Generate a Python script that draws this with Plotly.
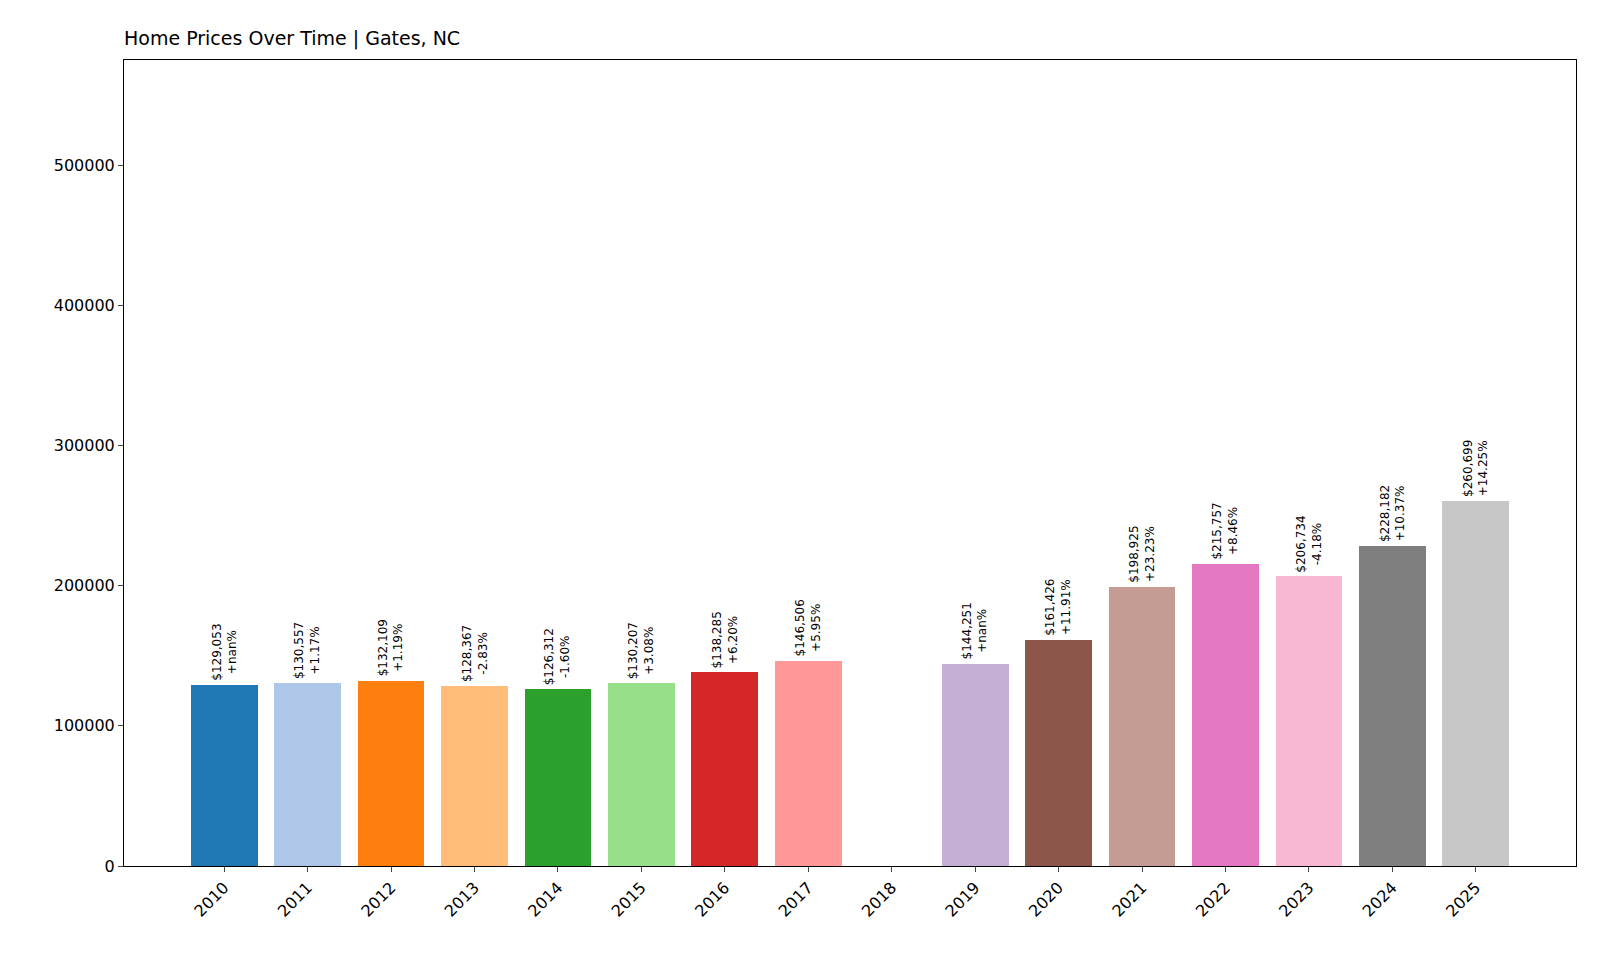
import plotly.graph_objects as go

years = list(range(2010, 2026))
prices = [129053, 130557, 132109, 128367, 126312, 130207, 138285, 146506, None,
          144251, 161426, 198925, 215757, 206734, 228182, 260699]
pct_labels = ["+nan%", "+1.17%", "+1.19%", "-2.83%", "-1.60%", "+3.08%", "+6.20%", "+5.95%", None,
              "+nan%", "+11.91%", "+23.23%", "+8.46%", "-4.18%", "+10.37%", "+14.25%"]
colors = ["#1f77b4", "#aec7e8", "#ff7f0e", "#ffbb78", "#2ca02c", "#98df8a", "#d62728", "#ff9896",
          "#9467bd", "#c5b0d5", "#8c564b", "#c49c94", "#e377c2", "#f7b6d2", "#7f7f7f", "#c7c7c7"]

fig = go.Figure()
fig.add_trace(go.Bar(x=years, y=[p if p is not None else 0 for p in prices], marker_color=colors,
                     marker_line_width=0, width=0.8, showlegend=False))

for y, p, pct in zip(years, prices, pct_labels):
    if p is not None:
        fig.add_annotation(x=y, y=p, text=f"${p:,}<br>{pct}", textangle=-90, showarrow=False,
                           yanchor="bottom", yshift=2, font=dict(size=12, color="#000", family="DejaVu Sans"))

fig.update_layout(
    width=1600, height=960, plot_bgcolor="white", paper_bgcolor="white",
    margin=dict(l=116, r=32, t=52, b=102),
    font=dict(family="DejaVu Sans", size=16, color="#000"),
    title=dict(text="Home Prices Over Time | Gates, NC", x=116/1600, xanchor="left",
               y=1-30/960, yanchor="middle", font=dict(size=19)),
    bargap=0,
)
fig.update_xaxes(range=[2008.8, 2026.2], tickmode="array", tickvals=years, ticktext=[str(y) for y in years],
                 tickangle=-45, showline=True, linecolor="black", mirror=True, ticks="outside",
                 ticklen=5, showgrid=False, zeroline=False)
fig.update_yaxes(range=[0, 575000], tickvals=[0, 100000, 200000, 300000, 400000, 500000],
                 tickformat="d", showline=True, linecolor="black", mirror=True, ticks="outside",
                 ticklen=5, showgrid=False, zeroline=False)
fig.write_html("out.html")
